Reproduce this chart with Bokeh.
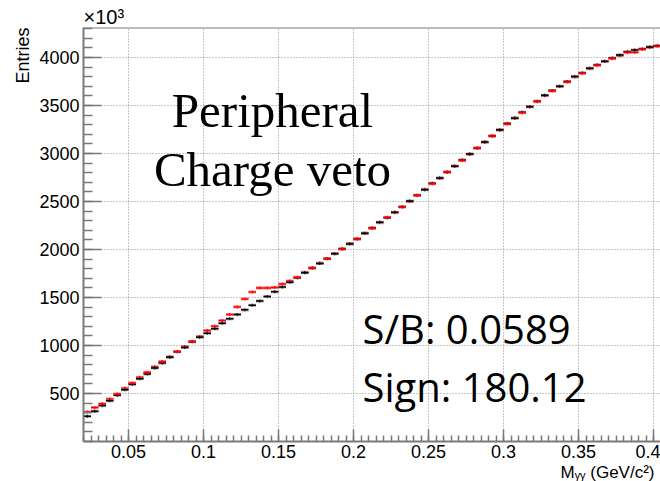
from bokeh.plotting import figure
from bokeh.models import Range1d, Label, Span, FixedTicker, NumeralTickFormatter, ColumnDataSource, Title
from bokeh.embed import file_html
from bokeh.resources import INLINE

# ---------------- data ----------------
bin_width = 0.005
bin_centers = [round(0.0225 + bin_width * i, 4) for i in range(77)]

black_vals = [263, 315, 374, 425, 481, 540, 595, 654, 703, 765,
              817, 878, 935, 979, 1040, 1085, 1128, 1175, 1232, 1279,
              1322, 1371, 1419, 1464, 1510, 1560, 1609, 1658, 1705, 1758,
              1806, 1855, 1903, 1955, 2008, 2058, 2111, 2170, 2225, 2284,
              2330, 2388, 2445, 2505, 2565, 2622, 2690, 2745, 2804, 2866,
              2932, 2995, 3055, 3120, 3181, 3247, 3313, 3368, 3430, 3486,
              3544, 3606, 3655, 3700, 3749, 3801, 3839, 3887, 3922, 3960,
              3994, 4025, 4060, 4078, 4088, 4109, 4122]

red_vals = [308, 353, 394, 443, 495, 554, 609, 668, 720, 779,
            834, 883, 938, 990, 1042, 1093, 1156, 1201, 1260, 1322,
            1402, 1485, 1558, 1600, 1600, 1605, 1641, 1672, 1710, 1762,
            1810, 1857, 1906, 1958, 2004, 2062, 2108, 2166, 2220, 2280,
            2335, 2384, 2442, 2500, 2562, 2626, 2685, 2742, 2808, 2870,
            2928, 2992, 3058, 3117, 3183, 3243, 3308, 3370, 3425, 3488,
            3540, 3602, 3652, 3697, 3745, 3798, 3835, 3884, 3918, 3958,
            3988, 4020, 4053, 4053, 4085, 4105, 4118]

x_ticks = [0.05, 0.1, 0.15, 0.2, 0.25, 0.3, 0.35, 0.4]
x_tick_labels = ["0.05", "0.1", "0.15", "0.2", "0.25", "0.3", "0.35", "0.4"]
y_ticks = [500, 1000, 1500, 2000, 2500, 3000, 3500, 4000]
y_tick_labels = ["500", "1000", "1500", "2000", "2500", "3000", "3500", "4000"]

box_half = 16  # half height of the error boxes (in 10^3 entries)

# ---------------- figure ----------------
p = figure(width=660, height=481,
           x_range=Range1d(0.02, 0.02 + 577 / 1500.0),
           y_range=Range1d(0, 4312),
           output_backend="svg", toolbar_location=None,
           min_border_left=83, min_border_right=0,
           min_border_top=27, min_border_bottom=39)
p.outline_line_color = None
p.background_fill_color = "white"
p.border_fill_color = "white"

AX = "#7a7a7a"
for ax in (p.xaxis[0], p.yaxis[0]):
    ax.axis_line_color = AX
    ax.axis_line_width = 2
    ax.major_tick_line_color = AX
    ax.minor_tick_line_color = AX
    ax.major_tick_line_width = 1.5
    ax.minor_tick_line_width = 1.5
    ax.major_tick_out = 0
    ax.minor_tick_out = 0
    ax.major_label_text_font = "Liberation Sans"
    ax.major_label_text_font_size = "18px"
    ax.major_label_text_color = "black"

p.xaxis.ticker = FixedTicker(ticks=x_ticks,
                             minor_ticks=[round(0.02 + 0.005 * i, 4) for i in range(78)])
p.xaxis.formatter = NumeralTickFormatter(format="0.[00]")
p.xaxis.major_label_overrides = dict(zip(x_ticks, x_tick_labels))
p.xaxis.major_tick_in = 12
p.xaxis.minor_tick_in = 6
p.xaxis.major_label_standoff = 3

p.yaxis.ticker = FixedTicker(ticks=y_ticks, minor_ticks=[100 * i for i in range(44)])
p.yaxis.major_label_overrides = dict(zip(y_ticks, y_tick_labels))
p.yaxis.major_tick_in = 18
p.yaxis.minor_tick_in = 9
p.yaxis.major_label_standoff = 4

for g in (p.xgrid[0], p.ygrid[0]):
    g.grid_line_color = "#8c8c8c"
    g.grid_line_dash = "1 2"
    g.grid_line_width = 1

p.add_layout(Span(location=4312, dimension="width", line_color=AX, line_width=2))

# ---------------- data glyphs ----------------
def draw(idx, vals, box_color, box_alpha, line_color):
    src = ColumnDataSource(dict(
        left=[bin_centers[i] - bin_width / 2 for i in idx],
        right=[bin_centers[i] + bin_width / 2 for i in idx],
        c=[bin_centers[i] for i in idx],
        v=[vals[i] for i in idx],
        lo=[vals[i] - box_half for i in idx],
        hi=[vals[i] + box_half for i in idx],
    ))
    p.quad(left="left", right="right", bottom="lo", top="hi", source=src,
           fill_color=box_color, fill_alpha=box_alpha, line_color=None)
    p.segment(x0="left", x1="right", y0="v", y1="v", source=src,
              line_color=line_color, line_width=1.5)
    p.segment(x0="c", x1="c", y0="lo", y1="hi", source=src,
              line_color=line_color, line_width=1)

even = [i for i in range(len(bin_centers)) if i % 2 == 0]
odd = [i for i in range(len(bin_centers)) if i % 2 == 1]
# red on top for even bins, black on top for odd bins
draw(even, black_vals, "#808080", 0.6, "black")
draw(even, red_vals, "#ff0000", 0.4, "#ff0000")
draw(odd, red_vals, "#ff0000", 0.4, "#ff0000")
draw(odd, black_vals, "#808080", 0.6, "black")

# ---------------- texts ----------------
def lab(text, x, y, font, size, **kw):
    p.add_layout(Label(text=text, x=x, y=y, x_units="screen", y_units="screen",
                       text_font=font, text_font_size=size, text_color="black",
                       text_baseline="bottom", **kw))

lab("Peripheral", 189, 304, "Liberation Serif", "49px", text_align="center")
lab("Charge veto", 189, 245, "Liberation Serif", "49px", text_align="center")
lab("S/B: 0.0589", 279, 86, "Open Sans", "40px")
lab("Sign: 180.12", 279, 28, "Open Sans", "40px")

# axis titles / exponent
p.add_layout(Title(text="Entries", align="right", text_font="Liberation Sans",
                   text_font_size="18px", text_font_style="normal",
                   text_color="black", standoff=8), "left")
p.add_layout(Title(text="\u00d710\u00b3", align="left", text_font="Liberation Sans",
                   text_font_size="20px", text_font_style="normal",
                   text_color="black", standoff=0), "above")
p.add_layout(Title(text="M\u1d67\u1d67 (GeV/c\u00b2)", align="right", text_font="Liberation Sans",
                   text_font_size="17px", text_font_style="normal",
                   text_color="black", standoff=0, offset=6), "below")

open("out.html", "w").write(file_html(p, INLINE))
